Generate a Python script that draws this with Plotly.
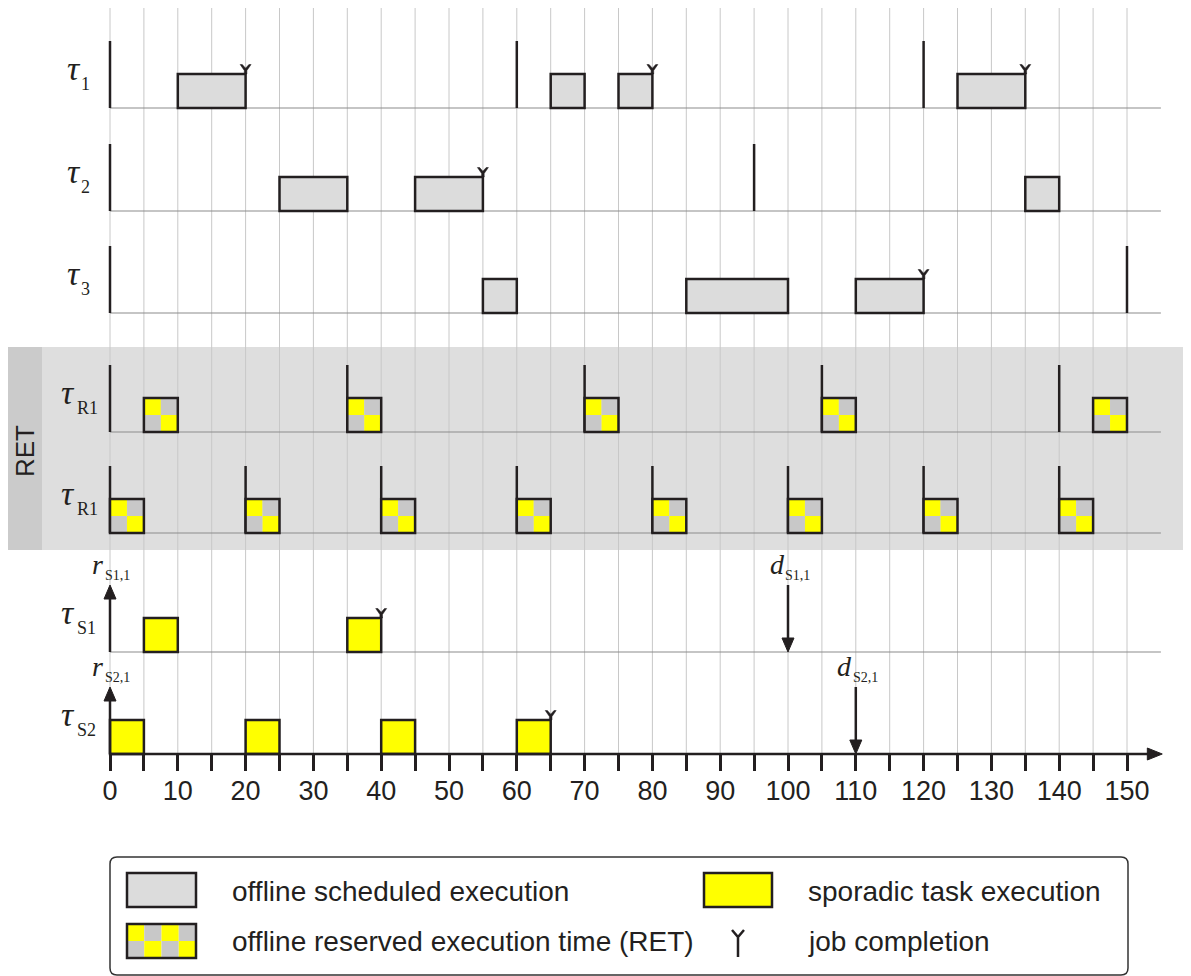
import plotly.graph_objects as go

# The page body adds an 8px margin, so the figure paper starts at screen (8, 8).
OFF = 8
W, H = 1191, 968
T0_SCREEN = 110       # screen pixel of t = 0
PX_PER_UNIT = 6.78    # pixels per time unit


def ux(px):
    """pixel distance -> time units"""
    return px / PX_PER_UNIT


def pp(sx):
    """screen x pixel -> paper fraction"""
    return (sx - OFF) / W


# ---------------- data ----------------
tick_values = list(range(0, 151, 5))
tick_labels = [str(v) if v % 10 == 0 else "" for v in tick_values]

row_subscripts = ["1", "2", "3", "R1", "R1", "S1", "S2"]

tau1_release = [0, 60, 120]
tau1_start = [10, 65, 75, 125]
tau1_end = [20, 70, 80, 135]
tau1_done = [20, 80, 135]

tau2_release = [0, 95]
tau2_start = [25, 45, 135]
tau2_end = [35, 55, 140]
tau2_done = [55]

tau3_release = [0, 150]
tau3_start = [55, 85, 110]
tau3_end = [60, 100, 120]
tau3_done = [120]

ret_a_release = [0, 35, 70, 105, 140]
ret_a_start = [5, 35, 70, 105, 145]
ret_a_end = [10, 40, 75, 110, 150]

ret_b_release = [0, 20, 40, 60, 80, 100, 120, 140]
ret_b_start = [0, 20, 40, 60, 80, 100, 120, 140]
ret_b_end = [5, 25, 45, 65, 85, 105, 125, 145]

s1_start = [5, 35]
s1_end = [10, 40]
s1_done = [40]
s1_arrival = 0
s1_deadline = 100
s1_job = "S1,1"

s2_start = [0, 20, 40, 60]
s2_end = [5, 25, 45, 65]
s2_done = [65]
s2_arrival = 0
s2_deadline = 110
s2_job = "S2,1"

legend_labels = ["offline scheduled execution",
                 "offline reserved execution time (RET)",
                 "sporadic task execution",
                 "job completion"]

# ---------------- layout / style ----------------
row_base = [108, 211, 313, 432, 533, 652, 754]   # screen pixel baselines
BOX_H = 34
REL_H = 67
T_END = 155
INK = "#231f20"
GRAY_BOX = "#dcdcdc"
CHECK_GRAY = "#c8c8c8"
YELLOW = "#ffff00"
GRID = "#c8c8c8"
BASE = "#8c8c8c"

rows = [
    dict(kind="offline", release=tau1_release, start=tau1_start, end=tau1_end, done=tau1_done),
    dict(kind="offline", release=tau2_release, start=tau2_start, end=tau2_end, done=tau2_done),
    dict(kind="offline", release=tau3_release, start=tau3_start, end=tau3_end, done=tau3_done),
    dict(kind="ret", release=ret_a_release, start=ret_a_start, end=ret_a_end, done=[]),
    dict(kind="ret", release=ret_b_release, start=ret_b_start, end=ret_b_end, done=[]),
    dict(kind="sporadic", release=[], start=s1_start, end=s1_end, done=s1_done,
         arrival=s1_arrival, deadline=s1_deadline, job=s1_job),
    dict(kind="sporadic", release=[], start=s2_start, end=s2_end, done=s2_done,
         arrival=s2_arrival, deadline=s2_deadline, job=s2_job),
]

shapes = []
annotations = []


def line(x0, y0, x1, y1, color, width, xref="x"):
    shapes.append(dict(type="line", xref=xref, yref="y", x0=x0, y0=y0, x1=x1, y1=y1,
                       line=dict(color=color, width=width), layer="above"))


def rect(x0, y0, x1, y1, fill, lc="rgba(0,0,0,0)", lw=0, xref="x"):
    shapes.append(dict(type="rect", xref=xref, yref="y", x0=x0, y0=y0, x1=x1, y1=y1,
                       fillcolor=fill, line=dict(color=lc, width=lw), layer="above"))


def path(d, fill=None, lc=INK, lw=2.5, xref="x"):
    s = dict(type="path", xref=xref, yref="y", path=d,
             line=dict(color=lc, width=lw), layer="above")
    if fill:
        s["fillcolor"] = fill
    shapes.append(s)


def text(x, y, t, size, family="Liberation Sans", style="normal", xref="paper",
         xanchor="center", angle=0):
    annotations.append(dict(x=x, y=y, xref=xref, yref="y", text=t, showarrow=False,
                            xanchor=xanchor, yanchor="middle", textangle=angle,
                            font=dict(family=family, size=size, color=INK, style=style)))


# RET background
rect(0, 347, 1, 550, "#dedede", xref="paper")
rect(0, 347, pp(42), 550, "#cbcbcb", xref="paper")
text(pp(25), 451, "RET", 26, angle=-90)

# grid
for v in tick_values:
    line(v, OFF, v, row_base[-1], GRID, 1)

# baselines
for b in row_base[:-1]:
    line(0, b, T_END, b, BASE, 1.2)


def checker(s, e, b):
    m = (s + e) / 2
    ym = b - BOX_H / 2
    rect(s, b - BOX_H, m, ym, YELLOW)
    rect(m, b - BOX_H, e, ym, CHECK_GRAY)
    rect(s, ym, m, b, CHECK_GRAY)
    rect(m, ym, e, b, YELLOW)
    rect(s, b - BOX_H, e, b, "rgba(0,0,0,0)", INK, 2.5)


def done_marker(x, top):
    pts = [(-5.5, -9.5), (-3.3, -9.5), (0, -5.8), (3.3, -9.5), (5.5, -9.5),
           (1.3, -3.5), (1.3, 0), (-1.3, 0), (-1.3, -3.5)]
    d = "M " + " L ".join(f"{x + ux(dx)},{top + dy}" for dx, dy in pts) + " Z"
    path(d, fill=INK, lw=0.5)


for r, b in zip(rows, row_base):
    for rel in r["release"]:
        line(rel, b - REL_H, rel, b, INK, 2.5)
    for s, e in zip(r["start"], r["end"]):
        if r["kind"] == "offline":
            rect(s, b - BOX_H, e, b, GRAY_BOX, INK, 2.5)
        elif r["kind"] == "sporadic":
            rect(s, b - BOX_H, e, b, YELLOW, INK, 2.5)
        else:
            checker(s, e, b)
    for d in r["done"]:
        done_marker(d, b - BOX_H)
    if r["kind"] == "sporadic":
        a = r["arrival"]
        line(a, b, a, b - REL_H + 12, INK, 2.5)
        path(f"M {a - ux(6)},{b - REL_H + 14} L {a},{b - REL_H} L {a + ux(6)},{b - REL_H + 14} Z",
             fill=INK, lw=1)
        dl = r["deadline"]
        line(dl, b - REL_H, dl, b - 12, INK, 2.5)
        path(f"M {dl - ux(6)},{b - 14} L {dl},{b} L {dl + ux(6)},{b - 14} Z", fill=INK, lw=1)
        # labels
        text(a - ux(13), b - 88, "r", 28, "Liberation Serif", "italic", xref="x")
        text(a - ux(7), b - 77, r["job"], 14, "Liberation Serif", xref="x", xanchor="left")
        text(dl - ux(11), b - 88, "d", 28, "Liberation Serif", "italic", xref="x")
        text(dl - ux(5), b - 77, r["job"], 14, "Liberation Serif", xref="x", xanchor="left")

# axis line with arrow
b = row_base[-1]
line(0, b, 153.2, b, INK, 2.5)
path(f"M 153,{b - 6} L 155.2,{b} L 153,{b + 6} Z", fill=INK, lw=1)

# row labels
for i, (sub, b) in enumerate(zip(row_subscripts, row_base)):
    cx, sx = (73.5, 79) if i < 3 else (68, 75)
    text(pp(cx), b - 40, "τ", 34, "Liberation Serif", "italic")
    text(pp(sx), b - 24, sub, 18, "Liberation Serif", xanchor="left")

# ---------------- legend ----------------
LX0, LX1, LY0, LY1, RAD = 110, 1128, 857, 975, 7
path(f"M {pp(LX0 + RAD)},{LY0} L {pp(LX1 - RAD)},{LY0} Q {pp(LX1)},{LY0} {pp(LX1)},{LY0 + RAD} "
     f"L {pp(LX1)},{LY1 - RAD} Q {pp(LX1)},{LY1} {pp(LX1 - RAD)},{LY1} "
     f"L {pp(LX0 + RAD)},{LY1} Q {pp(LX0)},{LY1} {pp(LX0)},{LY1 - RAD} "
     f"L {pp(LX0)},{LY0 + RAD} Q {pp(LX0)},{LY0} {pp(LX0 + RAD)},{LY0} Z",
     fill="white", lc="#333333", lw=1.5, xref="paper")

rect(pp(127), 873, pp(196), 907, GRAY_BOX, INK, 2.5, xref="paper")
cw = (196 - 127) / 4
for k in range(4):
    top_col = YELLOW if k % 2 == 0 else CHECK_GRAY
    bot_col = CHECK_GRAY if k % 2 == 0 else YELLOW
    rect(pp(127 + k * cw), 924, pp(127 + (k + 1) * cw), 941, top_col, xref="paper")
    rect(pp(127 + k * cw), 941, pp(127 + (k + 1) * cw), 958, bot_col, xref="paper")
rect(pp(127), 924, pp(196), 958, "rgba(0,0,0,0)", INK, 2.5, xref="paper")
rect(pp(704), 873, pp(772), 907, YELLOW, INK, 2.5, xref="paper")
path(f"M {pp(732)},{930} L {pp(738)},{937} L {pp(744)},{930} M {pp(738)},{937} L {pp(738)},{957}",
     lw=2.5, xref="paper")

text(pp(230), 891, legend_labels[0], 28, xanchor="left")
text(pp(230), 941, legend_labels[1], 28, xanchor="left")
text(pp(806), 891, legend_labels[2], 28, xanchor="left")
text(pp(806), 941, legend_labels[3], 28, xanchor="left")

# ---------------- figure ----------------
fig = go.Figure()
fig.add_trace(go.Scatter(x=[0], y=[row_base[-1]], mode="markers",
                         marker=dict(opacity=0), hoverinfo="skip", showlegend=False))

T0_PAPER = T0_SCREEN - OFF
fig.update_layout(
    width=W, height=H, autosize=False,
    margin=dict(l=0, r=0, t=0, b=0),
    paper_bgcolor="white", plot_bgcolor="white",
    showlegend=False,
    shapes=shapes, annotations=annotations,
    xaxis=dict(range=[-T0_PAPER / PX_PER_UNIT, (W - T0_PAPER) / PX_PER_UNIT],
               anchor="free", position=(H + OFF - row_base[-1]) / H,
               tickmode="array", tickvals=tick_values, ticktext=tick_labels,
               ticks="outside", ticklen=16, tickwidth=2.5, tickcolor=INK,
               ticklabelstandoff=-3,
               tickfont=dict(family="Liberation Sans", size=27, color=INK),
               showline=False, showgrid=False, zeroline=False, fixedrange=True),
    yaxis=dict(range=[H + OFF, OFF], visible=False, fixedrange=True),
)

fig.write_html("out.html")
